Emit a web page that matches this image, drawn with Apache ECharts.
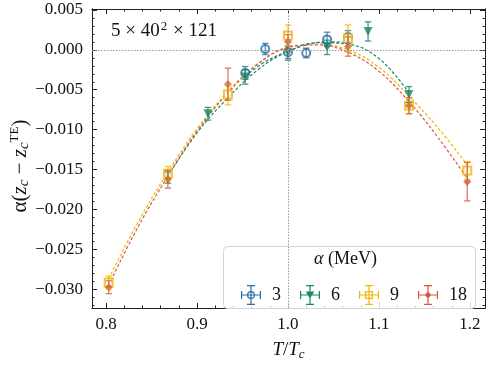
<!DOCTYPE html>
<html>
<head>
    <meta charset="utf-8">
    <title>alpha fit</title>
    <script src="https://cdn.jsdelivr.net/npm/echarts@6/dist/echarts.min.js"></script>
    <style>
        html, body { margin: 0; padding: 0; background: #fff; }
        #chart1 { width: 488px; height: 366px; }
    </style>
</head>
<body>
<div id="chart1"></div>
<script>
    // 数据
    var t3 = [0.953, 0.975, 1.0, 1.02, 1.043, 1.066];
    var y3 = [-0.0029, 0.0001, -0.0003, -0.0004, 0.0013, 0.0016];
    var e3 = [0.0008, 0.0007, 0.0008, 0.0006, 0.0009, 0.0008];

    var t6 = [0.868, 0.912, 0.953, 1.0, 1.043, 1.088, 1.133];
    var y6 = [-0.0160, -0.0080, -0.0034, -0.0004, 0.0003, 0.0023, -0.0056];
    var e6 = [0.0007, 0.0008, 0.0009, 0.0009, 0.0009, 0.0012, 0.0010];

    var t9 = [0.803, 0.868, 0.934, 1.0, 1.066, 1.133, 1.197];
    var y9 = [-0.0291, -0.0155, -0.0056, 0.0018, 0.0014, -0.0070, -0.0151];
    var e9 = [0.0008, 0.0009, 0.0013, 0.0013, 0.0017, 0.0010, 0.0011];

    var t18 = [0.803, 0.868, 0.934, 1.0, 1.066, 1.133, 1.197];
    var y18 = [-0.0297, -0.0162, -0.0043, 0.0010, 0.0004, -0.0070, -0.0165];
    var e18 = [0.0008, 0.0011, 0.0020, 0.0009, 0.0012, 0.0010, 0.0024];

    // dashed fit curves
    var fitT3 = [0.953, 0.975, 1.0, 1.02, 1.043, 1.066];
    var fitY3 = [-0.0033, -0.0015, -0.0002, 0.0006, 0.0010, 0.0009];
    var fitT6 = [0.868, 0.90, 0.934, 0.967, 1.0, 1.033, 1.066, 1.10, 1.133];
    var fitY6 = [-0.0158, -0.0104, -0.0060, -0.0025, -0.0002, 0.0009, 0.0007, -0.0011, -0.0054];
    var fitT = [0.803, 0.835, 0.868, 0.90, 0.934, 0.967, 1.0, 1.033, 1.066, 1.10, 1.133, 1.165, 1.197];
    var fitY9 = [-0.0286, -0.0216, -0.0153, -0.0099, -0.0052, -0.0017, 0.0003, 0.0007, 0.0000, -0.0022, -0.0058, -0.0098, -0.0144];
    var fitY18 = [-0.0294, -0.0222, -0.0158, -0.0102, -0.0054, -0.0018, 0.0003, 0.0006, -0.0003, -0.0027, -0.0065, -0.0110, -0.0161];

    var xTicks = [0.8, 0.9, 1.0, 1.1, 1.2];
    var yTicks = [-0.030, -0.025, -0.020, -0.015, -0.010, -0.005, 0.000, 0.005];
    var legendNames = ['3', '6', '9', '18'];

    var colors = ['#2b6ea8', '#178a5c', '#f2b705', '#d45840'];
    var serif = '"Liberation Serif", "DejaVu Serif", serif';

    var xMin = 0.7846, xMax = 1.2165, yMin = -0.0323, yMax = 0.0051;

    var xMinor = [], yMinor = [];
    for (var i = 0; i <= 22; i++) {
        var v = Math.round((0.78 + i * 0.02) * 1000) / 1000;
        if (v >= xMin && v <= xMax) xMinor.push(v);
    }
    for (var j = 0; j <= 40; j++) {
        var w = Math.round((-0.035 + j * 0.001) * 10000) / 10000;
        if (w >= yMin && w <= yMax) yMinor.push(w);
    }

    function zip(a, b, c) {
        var out = [];
        for (var k = 0; k < a.length; k++) out.push(c ? [a[k], b[k], c[k]] : [a[k], b[k]]);
        return out;
    }

    function xAxisDef(pos, vals, len, labels) {
        return {
            type: 'value', position: pos, min: xMin, max: xMax,
            axisLine: { show: true, onZero: false, lineStyle: { color: '#222', width: 1 } },
            axisTick: { inside: true, length: len, customValues: vals, lineStyle: { color: '#222' } },
            axisLabel: labels ? {
                customValues: xTicks, fontFamily: serif, fontSize: 17, color: '#111', margin: 8,
                formatter: function (v) { return v.toFixed(1); }
            } : { show: false },
            splitLine: { show: false }
        };
    }

    function yAxisDef(pos, vals, len, labels) {
        return {
            type: 'value', position: pos, min: yMin, max: yMax,
            axisLine: { show: true, onZero: false, lineStyle: { color: '#222', width: 1 } },
            axisTick: { inside: true, length: len, customValues: vals, lineStyle: { color: '#222' } },
            axisLabel: labels ? {
                customValues: yTicks, fontFamily: serif, fontSize: 17, color: '#111', margin: 9,
                formatter: function (v) {
                    var s = Math.abs(v).toFixed(3);
                    return (v < -1e-9 ? '\u2212' : '') + s;
                }
            } : { show: false },
            splitLine: { show: false }
        };
    }

    var xAxes = [
        xAxisDef('bottom', xTicks, 5, true),
        xAxisDef('bottom', xMinor, 2.5, false),
        xAxisDef('top', xTicks, 5, false),
        xAxisDef('top', xMinor, 2.5, false)
    ];
    xAxes[0].name = '{i|T}{n|/}{i|T}{s|c}';
    xAxes[0].nameLocation = 'middle';
    xAxes[0].nameGap = 31;
    xAxes[0].nameTextStyle = {
        fontFamily: serif, fontSize: 19, color: '#111',
        rich: {
            i: { fontFamily: serif, fontSize: 19, fontStyle: 'italic', color: '#111' },
            n: { fontFamily: serif, fontSize: 19, color: '#111' },
            s: { fontFamily: serif, fontSize: 13, fontStyle: 'italic', color: '#111', padding: [9, 0, 0, 0] }
        }
    };

    var yAxes = [
        yAxisDef('left', yTicks, 5, true),
        yAxisDef('left', yMinor, 2.5, false),
        yAxisDef('right', yTicks, 5, false),
        yAxisDef('right', yMinor, 2.5, false)
    ];

    function errRender(color) {
        return function (params, api) {
            var x = api.value(0), y = api.value(1), e = api.value(2);
            var top = api.coord([x, y + e]);
            var bot = api.coord([x, y - e]);
            var cw = 3.2;
            var st = { stroke: color, lineWidth: 1.3, opacity: 0.8 };
            return {
                type: 'group',
                children: [
                    { type: 'line', shape: { x1: top[0], y1: top[1], x2: bot[0], y2: bot[1] }, style: st },
                    { type: 'line', shape: { x1: top[0] - cw, y1: top[1], x2: top[0] + cw, y2: top[1] }, style: st },
                    { type: 'line', shape: { x1: bot[0] - cw, y1: bot[1], x2: bot[0] + cw, y2: bot[1] }, style: st }
                ]
            };
        };
    }

    // legend icons: error bar cross with marker
    var cross = 'M0 9.4 H20 V10.6 H0 Z M9.4 0 H10.6 V20 H9.4 Z M6 0 H14 V1.2 H6 Z M6 18.8 H14 V20 H6 Z M0 6 H1.2 V14 H0 Z M18.8 6 H20 V14 H18.8 Z ';
    var icons = [
        'path://' + cross + 'M10 6 A4 4 0 1 1 9.99 6 Z M10 7.2 A2.8 2.8 0 1 0 10.01 7.2 Z',
        'path://' + cross + 'M5.8 6.5 H14.2 L10 13.8 Z',
        'path://' + cross + 'M6 6 H14 V14 H6 Z M7.2 7.2 V12.8 H12.8 V7.2 Z',
        'path://' + cross + 'M10 6.3 L13.2 10 L10 13.7 L6.8 10 Z'
    ];

    var pts = [zip(t3, y3), zip(t6, y6), zip(t9, y9), zip(t18, y18)];
    var errs = [zip(t3, y3, e3), zip(t6, y6, e6), zip(t9, y9, e9), zip(t18, y18, e18)];
    var fits = [zip(fitT3, fitY3), zip(fitT6, fitY6), zip(fitT, fitY9), zip(fitT, fitY18)];
    var symbols = ['emptyCircle', 'triangle', 'emptyRect', 'diamond'];
    var sizes = [8, 9, 8, 8];
    var rot = [0, 180, 0, 0];

    var series = [];
    // reference lines
    series.push({
        type: 'line', name: 'ref', data: [], silent: true,
        markLine: {
            silent: true, symbol: 'none', animation: false,
            label: { show: false },
            lineStyle: { color: '#999', type: [1.5, 1.5], width: 1 },
            data: [{ yAxis: 0 }, { xAxis: 1.0 }]
        }
    });
    for (var s = 0; s < 4; s++) {
        series.push({
            type: 'line', name: 'fit' + legendNames[s], data: fits[s], smooth: 0.4,
            symbol: 'none', z: 2, animation: false,
            lineStyle: { color: colors[s], width: 1.2, type: [3, 2] }
        });
    }
    for (var s2 = 0; s2 < 4; s2++) {
        series.push({
            type: 'scatter', name: legendNames[s2], data: pts[s2], z: 3,
            symbol: symbols[s2], symbolSize: sizes[s2], symbolRotate: rot[s2],
            animation: false,
            itemStyle: { color: colors[s2], borderColor: colors[s2], borderWidth: s2 === 0 || s2 === 2 ? 1.3 : 0, opacity: 0.8 }
        });
        series.push({
            type: 'custom', name: 'err' + legendNames[s2], data: errs[s2], z: 4,
            renderItem: errRender(colors[s2]), animation: false,
            encode: { x: 0, y: 1 }
        });
    }

    var myChart1 = echarts.init(document.getElementById('chart1'), null, { renderer: 'canvas' });
    myChart1.setOption({
        animation: false,
        grid: { left: 92, right: 3, top: 9, bottom: 50 },
        xAxis: xAxes,
        yAxis: yAxes,
        legend: {
            z: 20, zlevel: 0,
            data: legendNames.map(function (n, k) { return { name: n, icon: icons[k] }; }),
            left: 236, top: 280, itemWidth: 20, itemHeight: 20, itemGap: 19,
            selectedMode: false,
            itemStyle: { borderWidth: 0, opacity: 1 },
            textStyle: { fontFamily: serif, fontSize: 18, color: '#111', padding: [0, 0, 0, 6] }
        },
        graphic: [
            {
                type: 'rect', left: 223, top: 246, z: 5,
                shape: { width: 252, height: 62, r: 4 },
                style: { fill: 'rgba(255,255,255,0.82)', stroke: '#d4d4d4', lineWidth: 1 }
            },
            {
                type: 'text', left: 314, top: 250, z: 6,
                style: {
                    text: '{g|α} (MeV)', fill: '#111',
                    font: '18px ' + serif,
                    rich: { g: { fontFamily: serif, fontSize: 18, fontStyle: 'italic', fill: '#111' } }
                }
            },
            {
                type: 'text', left: 111, top: 20, z: 6,
                style: {
                    text: '5 × 40{p|2} × 121', fill: '#111', font: '19px ' + serif,
                    rich: { p: { fontFamily: serif, fontSize: 13, fill: '#111', padding: [0, 1, 10, 1] } }
                }
            },
            {
                type: 'text', z: 6, x: 20, y: 166, rotation: Math.PI / 2, originX: 0, originY: 0,
                style: {
                    text: '{a|α(}{i|z}{s|c}{a| − }{i|z}{s|c}{p|TE}{a|)}',
                    align: 'center', verticalAlign: 'middle',
                    rich: {
                        a: { fontFamily: serif, fontSize: 21, fill: '#111' },
                        i: { fontFamily: serif, fontSize: 21, fontStyle: 'italic', fill: '#111' },
                        s: { fontFamily: serif, fontSize: 15, fontStyle: 'italic', fill: '#111', padding: [9, 0, 0, 0] },
                        p: { fontFamily: serif, fontSize: 13, fill: '#111', padding: [0, 0, 11, 0] }
                    }
                }
            }
        ],
        series: series
    });
</script>
</body>
</html>
